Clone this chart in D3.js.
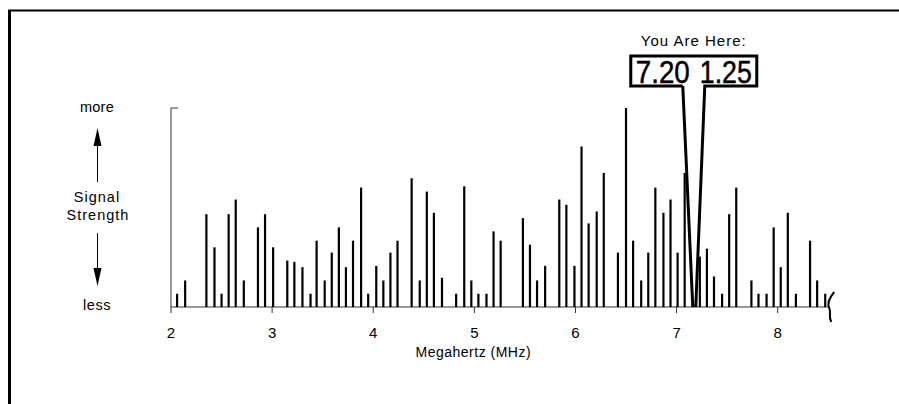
<!DOCTYPE html>
<html lang="en">
<head>
<meta charset="UTF-8">
<title>Signal Strength</title>
<script src="https://d3js.org/d3.v7.min.js"></script>
<style>
  html, body { margin: 0; padding: 0; background: #fff; overflow: hidden; }
  svg { display: block; position: absolute; left: 0; top: 0; }
  text { font-family: "Liberation Sans", Arial, sans-serif; fill: #000; }
</style>
</head>
<body>
<script>
// frequencies (MHz) of each signal line and its strength
const freqs = [2.06,2.14,2.35,2.43,2.50,2.57,2.64,2.72,2.86,2.93,
  3.01,3.15,3.22,3.30,3.38,3.44,3.52,3.59,3.66,3.73,
  3.80,3.88,3.95,4.03,4.10,4.17,4.24,4.38,4.46,4.53,
  4.60,4.68,4.82,4.90,4.97,5.04,5.12,5.19,5.26,5.48,
  5.55,5.62,5.70,5.84,5.91,5.99,6.06,6.13,6.21,6.28,
  6.42,6.50,6.57,6.65,6.72,6.79,6.87,6.94,7.01,7.08,
  7.23,7.30,7.37,7.45,7.52,7.59,7.74,7.81,7.89,7.96,
  8.03,8.10,8.18,8.32,8.39,8.47];
const strengths = [1,2,7,4.5,1,7,8.1,2,6,7,
  4.5,3.5,3.4,3,1,5,2,4.1,6,3,
  5,9,1,3.1,2,4.1,5,9.7,2,8.7,
  7.1,2.2,1,9.1,2,1,1,5.7,5,6.7,
  4.7,2,3.1,8.1,7.7,3.1,12.1,6.3,7.2,10.1,
  4.1,15,5,2,4.1,9,7.1,8.1,4.1,10.1,
  3.8,4.4,2.3,1,7,9,2,1,1,6,
  3,7.1,1,5,2,1];
const tickValues = [2,3,4,5,6,7,8];
const hereLabel = "You Are Here:";
const hereReading = ["7.20", "1.25"];
const hereFreq = 7.17;

const W = 899, H = 404;
const svg = d3.select('body').append('svg').attr('width', W).attr('height', H);

const x = d3.scaleLinear().domain([2, 8]).range([171, 777.7]);
const y = d3.scaleLinear().domain([0, 15]).range([307, 108]);
const xEnd = x(8.5);

// frame
svg.append('line').attr('x1', 8).attr('x2', W).attr('y1', 10.5).attr('y2', 10.5)
  .attr('stroke', '#000').attr('stroke-width', 2);
svg.append('line').attr('x1', 9.5).attr('x2', 9.5).attr('y1', 10).attr('y2', H)
  .attr('stroke', '#000').attr('stroke-width', 3);

// axes
const ax = svg.append('g').attr('stroke', '#333').attr('stroke-width', 1).attr('fill', 'none');
ax.append('path').attr('d', `M${x(2)+7},${y(15)}H${x(2)}V${y(0)}H${xEnd}`);
ax.selectAll('.tk').data(tickValues).enter().append('line')
  .attr('x1', d => x(d)).attr('x2', d => x(d))
  .attr('y1', y(0)).attr('y2', y(0) + 6);
// axis break mark
ax.append('path')
  .attr('d', `M${xEnd+6},${y(0)-15} C${xEnd+1},${y(0)-9} ${xEnd-1},${y(0)-3} ${xEnd+1},${y(0)+1} C${xEnd+3},${y(0)+5} ${xEnd},${y(0)+10} ${xEnd+3},${y(0)+15}`)
  .attr('stroke', '#000').attr('stroke-width', 2);

svg.selectAll('.tl').data(tickValues).enter().append('text')
  .attr('x', d => x(d)).attr('y', y(0) + 31)
  .attr('text-anchor', 'middle').attr('font-size', 15)
  .text(d => d);

svg.append('text').attr('x', x(5) - 1).attr('y', 357)
  .attr('text-anchor', 'middle').attr('font-size', 14).attr('letter-spacing', 0.5)
  .text('Megahertz (MHz)');

// bars
svg.selectAll('.bar').data(freqs).enter().append('line')
  .attr('x1', d => x(d)).attr('x2', d => x(d))
  .attr('y1', y(0)).attr('y2', (d, i) => y(strengths[i]))
  .attr('stroke', '#000').attr('stroke-width', 2.2);

// left legend: more / Signal Strength / less
const lx = 97;
const lg = svg.append('g').attr('font-size', 14.5).attr('text-anchor', 'middle');
lg.append('text').attr('x', lx).attr('y', 112).attr('letter-spacing', 0.3).text('more');
lg.append('text').attr('x', lx).attr('y', 202).attr('letter-spacing', 1).text('Signal');
lg.append('text').attr('x', lx + 1).attr('y', 220).attr('letter-spacing', 1).text('Strength');
lg.append('text').attr('x', lx).attr('y', 310).attr('letter-spacing', 0.5).text('less');
svg.append('line').attr('x1', lx + 0.5).attr('x2', lx + 0.5).attr('y1', 182).attr('y2', 140)
  .attr('stroke', '#000').attr('stroke-width', 1);
svg.append('path').attr('d', `M${lx+0.5},128 L${lx-3.5},146 L${lx+4.5},146 Z`).attr('fill', '#000');
svg.append('line').attr('x1', lx + 0.5).attr('x2', lx + 0.5).attr('y1', 233).attr('y2', 275)
  .attr('stroke', '#000').attr('stroke-width', 1);
svg.append('path').attr('d', `M${lx+0.5},286 L${lx-3.5},268 L${lx+4.5},268 Z`).attr('fill', '#000');

// "You Are Here" callout
const px = x(hereFreq);
const bx0 = px - 63, bx1 = px + 63, by0 = 56, by1 = 86;
svg.append('text').attr('x', px).attr('y', 46).attr('text-anchor', 'middle')
  .attr('font-size', 15).attr('letter-spacing', 1).text(hereLabel);
svg.append('path')
  .attr('d', `M${px-11},${by1} H${bx0} V${by0} H${bx1} V${by1} H${px+11} L${px+2},${y(0)} M${px-11},${by1} L${px-1},${y(0)}`)
  .attr('fill', '#fff').attr('stroke', '#000').attr('stroke-width', 3).attr('stroke-linejoin', 'miter');
const rd = svg.append('g')
  .attr('font-family', '"Liberation Sans Narrow", "DejaVu Sans Condensed", sans-serif')
  .attr('font-size', 32);
rd.append('text').attr('x', bx0 + 5).attr('y', by1 - 3.5)
  .attr('textLength', 54).attr('lengthAdjust', 'spacingAndGlyphs')
  .attr('stroke', '#000').attr('stroke-width', 0.5).text(hereReading[0]);
rd.append('text').attr('x', px + 6).attr('y', by1 - 3.5)
  .attr('textLength', 52).attr('lengthAdjust', 'spacingAndGlyphs')
  .attr('stroke', '#000').attr('stroke-width', 0.5).text(hereReading[1]);
</script>
</body>
</html>
